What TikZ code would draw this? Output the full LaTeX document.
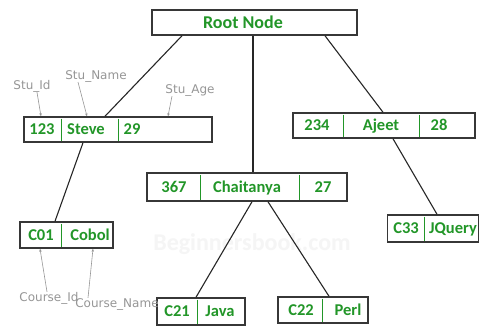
\documentclass[tikz,border=0pt]{standalone}
\usepackage{fontspec}
\setmainfont{Carlito}
\newfontfamily\lblfont{DejaVu Sans}
\usetikzlibrary{arrows.meta}
\definecolor{txtgreen}{RGB}{34,150,40}
\definecolor{boxgray}{RGB}{55,55,55}
\definecolor{lblgray}{RGB}{150,150,150}
\tikzset{
  box/.style={draw=boxgray, line width=1.5pt, fill=white, inner sep=0pt, rectangle},
  cell/.style={text=txtgreen, font=\bfseries\fontsize{16.5}{16.5}\selectfont, inner sep=0pt, anchor=center, text height=10.6pt, text depth=0pt},
  divider/.style={draw=txtgreen, line width=1pt},
  link/.style={draw=black!85, line width=1.1pt},
  lbl/.style={text=lblgray, font=\lblfont\fontsize{12}{12}\selectfont, inner sep=0pt},
  lblline/.style={draw=lblgray, line width=0.6pt, -{Stealth[length=3pt,width=2.5pt]}},
}
\begin{document}
\begin{tikzpicture}[x=1pt,y=-1pt]
\useasboundingbox[fill=white] (0,0) rectangle (480,327);
% watermark
\node[text=black!4, font=\bfseries\fontsize{24}{24}\selectfont, inner sep=0pt] (wm) at (252,244) {Beginnersbook.com};

% connector end points
\coordinate (rs) at (182,35);
\coordinate (st) at (105,117);
\coordinate (rc) at (253,35);
\coordinate (ct) at (253,173);
\coordinate (ra) at (325,35);
\coordinate (at) at (383,113);
\coordinate (sb) at (83,142);
\coordinate (c1t) at (55,222);
\coordinate (cb1) at (252,201);
\coordinate (c21t) at (196,298);
\coordinate (cb2) at (268,201);
\coordinate (c22t) at (329,297);
\coordinate (ab) at (393,138);
\coordinate (c33t) at (437,215);

% boxes
\node[box, minimum width=205pt, minimum height=25pt] (root) at (254.5,22.5) {};
\node[box, minimum width=188pt, minimum height=25pt] (steve) at (118,129.5) {};
\node[box, minimum width=182pt, minimum height=25pt] (ajeet) at (384,125.5) {};
\node[box, minimum width=200pt, minimum height=28pt] (chait) at (247,187) {};
\node[box, minimum width=91pt, minimum height=27pt] (c33) at (433,228.5) {};
\node[box, minimum width=93pt, minimum height=26pt] (c01) at (66.5,235) {};
\node[box, minimum width=88pt, minimum height=27pt] (c21) at (201,311.5) {};
\node[box, minimum width=90pt, minimum height=26pt] (c22) at (323,310) {};

\draw[link] (root.south -| rs) -- (steve.north -| st);
\draw[link] (root.south -| rc) -- (chait.north -| ct);
\draw[link] (root.south -| ra) -- (ajeet.north -| at);
\draw[link] (steve.south -| sb) -- (c01.north -| c1t);
\draw[link] (chait.south -| cb1) -- (c21.north -| c21t);
\draw[link] (chait.south -| cb2) -- (c22.north -| c22t);
\draw[link] (ajeet.south -| ab) -- (c33.north -| c33t);

% dividers
\draw[divider] (61,118.5) -- (61,140.5);
\draw[divider] (118,118.5) -- (118,140.5);
\draw[divider] (343,114.5) -- (343,136.5);
\draw[divider] (419,114.5) -- (419,136.5);
\draw[divider] (200,174.5) -- (200,199.5);
\draw[divider] (299,174.5) -- (299,199.5);
\draw[divider] (424,216.5) -- (424,240.5);
\draw[divider] (61,223.5) -- (61,246.5);
\draw[divider] (197,299.5) -- (197,323.5);
\draw[divider] (322,298.5) -- (322,321.5);

% texts
\node[cell, font=\bfseries\fontsize{18}{18}\selectfont, text height=11.6pt] (troot) at (243,22.5) {Root Node};
\node[cell] (t123) at (42,129.5) {123};
\node[cell] (tsteve) at (86,129.5) {Steve};
\node[cell] (t29) at (132,129.5) {29};
\node[cell] (t234) at (317,125.5) {234};
\node[cell] (tajeet) at (381,125.5) {Ajeet};
\node[cell] (t28) at (439,125.5) {28};
\node[cell] (t367) at (174,187) {367};
\node[cell] (tchait) at (247,187) {Chaitanya};
\node[cell] (t27) at (323,187) {27};
\node[cell] (tc33) at (406,228.5) {C33};
\node[cell] (tjq) at (453,228.5) {JQuery};
\node[cell] (tc01) at (41,235) {C01};
\node[cell] (tcobol) at (90,235) {Cobol};
\node[cell] (tc21) at (177,311.5) {C21};
\node[cell] (tjava) at (220,311.5) {Java};
\node[cell] (tc22) at (301,310) {C22};
\node[cell] (tperl) at (348,310) {Perl};

% gray labels
\node[lbl] (lid) at (32,86) {Stu\_Id};
\node[lbl] (lname) at (96,76) {Stu\_Name};
\node[lbl] (lage) at (190,90) {Stu\_Age};
\node[lbl] (lcid) at (49,298) {Course\_Id};
\node[lbl] (lcname) at (117,304) {Course\_Name};
\draw[lblline] (lid.south -| 37,0) -- (steve.north -| 41,0);
\draw[lblline] (lname.south -| 78,0) -- (steve.north -| 87,0);
\draw[lblline] (lage.south -| 172,0) -- (steve.north -| 168,0);
\draw[lblline] (lcid.north -| 47,0) -- (c01.south -| 40,0);
\draw[lblline] (lcname.north -| 88,0) -- (c01.south -| 93,0);
\end{tikzpicture}
\end{document}
